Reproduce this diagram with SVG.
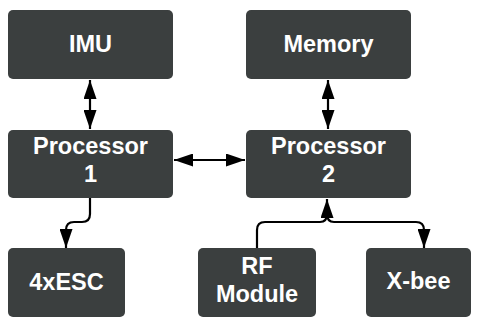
<svg xmlns="http://www.w3.org/2000/svg" width="480" height="320" viewBox="0 0 480 320">
<style>
.box{fill:#3b3f3f;}
.t{fill:#ffffff;font-family:"Liberation Sans",Arial,sans-serif;font-weight:bold;font-size:23.5px;text-anchor:middle;}
.c{fill:none;stroke:#000;stroke-width:2.2;}
</style>
<defs>
<marker id="ah" markerUnits="userSpaceOnUse" markerWidth="19" markerHeight="13" refX="19" refY="6.5" orient="auto-start-reverse">
<path d="M0,0 L19,6.5 L0,13 z" fill="#000"/>
</marker>
</defs>
<rect width="480" height="320" fill="#ffffff"/>
<g id="connectors">
<path class="c" d="M90,80 V129" marker-start="url(#ah)" marker-end="url(#ah)"/>
<path class="c" d="M328,80 V129" marker-start="url(#ah)" marker-end="url(#ah)"/>
<path class="c" d="M174,160 H245" marker-start="url(#ah)" marker-end="url(#ah)"/>
<path class="c" d="M90,198 V214 Q90,222 82,222 H74 Q66,222 66,230 V248" marker-end="url(#ah)"/>
<path class="c" d="M257,248 V230 Q257,222 265,222 H320 Q327,222 327,214 V199" marker-end="url(#ah)"/>
<path class="c" d="M327,214 Q327,222 334,222 H416 Q424,222 424,230 V248" marker-end="url(#ah)"/>
</g>
<g id="imu"><rect class="box" x="8" y="10" width="165" height="69" rx="5"/><text class="t" x="90.5" y="52">IMU</text></g>
<g id="memory"><rect class="box" x="246" y="10" width="165" height="69" rx="5"/><text class="t" x="328.5" y="52">Memory</text></g>
<g id="processor1"><rect class="box" x="8" y="130" width="165" height="68" rx="5"/><text class="t" x="90.5" y="154">Processor</text><text class="t" x="90.5" y="182">1</text></g>
<g id="processor2"><rect class="box" x="246" y="130" width="165" height="68" rx="5"/><text class="t" x="328.5" y="154">Processor</text><text class="t" x="328.5" y="182">2</text></g>
<g id="esc"><rect class="box" x="8" y="248" width="117" height="69" rx="5"/><text class="t" x="66.5" y="290">4xESC</text></g>
<g id="rf"><rect class="box" x="198" y="248" width="118" height="69" rx="5"/><text class="t" x="257" y="274">RF</text><text class="t" x="257" y="302">Module</text></g>
<g id="xbee"><rect class="box" x="366" y="248" width="105" height="69" rx="5"/><text class="t" x="418.5" y="289">X-bee</text></g>
</svg>
